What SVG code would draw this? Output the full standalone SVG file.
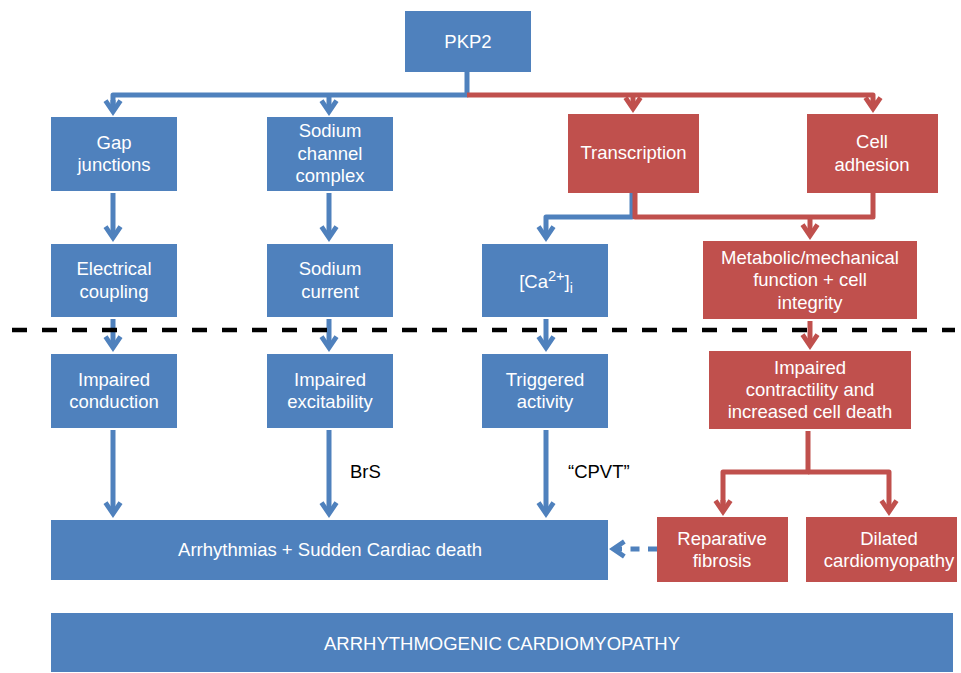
<svg xmlns="http://www.w3.org/2000/svg" width="961" height="673" viewBox="0 0 961 673">
<style>
.b{fill:#4F81BD}
.r{fill:#C0504D}
.t{fill:#FFFFFF;font-family:"Liberation Sans",Arial,sans-serif;font-size:18.5px;text-anchor:middle}
.k{fill:#000000;font-family:"Liberation Sans",Arial,sans-serif;font-size:18.5px}
.cb{fill:none;stroke:#4F81BD;stroke-width:5;stroke-linejoin:round}
.cr{fill:none;stroke:#C0504D;stroke-width:5;stroke-linejoin:round}
.ab{marker-end:url(#mb)}
.ar{marker-end:url(#mr)}
</style>
<defs>
<marker id="mb" viewBox="-20 -12 24 24" markerWidth="24" markerHeight="24" markerUnits="userSpaceOnUse" refX="-7" refY="0" orient="auto">
<polygon points="0,0 -14,-9.5 -16.7,-5.5 -8.5,0 -16.7,5.5 -14,9.5" fill="#4F81BD"/>
</marker>
<marker id="mr" viewBox="-20 -12 24 24" markerWidth="24" markerHeight="24" markerUnits="userSpaceOnUse" refX="-7" refY="0" orient="auto">
<polygon points="0,0 -14,-9.5 -16.7,-5.5 -8.5,0 -16.7,5.5 -14,9.5" fill="#C0504D"/>
</marker>
</defs>
<rect width="961" height="673" fill="#FFFFFF"/>

<g id="connectors">
<path class="cb" d="M467,72 V95 H113 V109"/>
<path class="cb ab" d="M113,100 V109"/>
<path class="cb ab" d="M329,95 V109"/>
<path class="cr" d="M467,95 H873 V106"/>
<path class="cr ar" d="M873,100 V106"/>
<path class="cr ar" d="M633,95 V106"/>
<path class="cb ab" d="M113,193 V235"/>
<path class="cb ab" d="M329,193 V235"/>
<path class="cb ab" d="M632,193 V217 H546 V235"/>
<path class="cr" d="M635,193 V217 H873 V193"/>
<path class="cr ar" d="M810,217 V233"/>
<path class="cb ab" d="M113,319 V345"/>
<path class="cb ab" d="M329,319 V345"/>
<path class="cb ab" d="M546,319 V345"/>
<path class="cr ar" d="M810,321 V343"/>
<path class="cb ab" d="M113,430 V511"/>
<path class="cb ab" d="M329,430 V511"/>
<path class="cb ab" d="M546,430 V511"/>
<path class="cr" d="M808,431 V472 H723 V509"/>
<path class="cr ar" d="M723,500 V509"/>
<path class="cr ar" d="M808,472 H889 V509"/>
<path class="cb ab" d="M657,549 H616" stroke-dasharray="9 8.5"/>
<path d="M12,330 H955" fill="none" stroke="#000000" stroke-width="4.5" stroke-dasharray="15 15"/>
</g>

<g id="pkp2"><rect class="b" x="405" y="11" width="126" height="61"/><text class="t" x="468" y="48">PKP2</text></g>
<g id="gap"><rect class="b" x="51" y="117" width="126" height="74"/><text class="t" x="114" y="149">Gap</text><text class="t" x="114" y="171">junctions</text></g>
<g id="sodium-channel"><rect class="b" x="267" y="117" width="126" height="74"/><text class="t" x="330" y="137">Sodium</text><text class="t" x="330" y="160">channel</text><text class="t" x="330" y="182">complex</text></g>
<g id="transcription"><rect class="r" x="568" y="114" width="131" height="79"/><text class="t" x="633.5" y="159">Transcription</text></g>
<g id="cell-adhesion"><rect class="r" x="807" y="114" width="131" height="79"/><text class="t" x="872" y="148">Cell</text><text class="t" x="872" y="171">adhesion</text></g>
<g id="electrical"><rect class="b" x="51" y="244" width="126" height="73"/><text class="t" x="114" y="275">Electrical</text><text class="t" x="114" y="298">coupling</text></g>
<g id="sodium-current"><rect class="b" x="267" y="244" width="126" height="73"/><text class="t" x="330" y="275">Sodium</text><text class="t" x="330" y="298">current</text></g>
<g id="calcium"><rect class="b" x="482" y="244" width="126" height="73"/><text class="t" x="546" y="288">[Ca<tspan font-size="14.5" dy="-7">2+</tspan><tspan dy="7">]</tspan><tspan font-size="14" dy="5">i</tspan></text></g>
<g id="metabolic"><rect class="r" x="703" y="241" width="214" height="78"/><text class="t" x="810" y="264">Metabolic/mechanical</text><text class="t" x="810" y="286">function + cell</text><text class="t" x="810" y="309">integrity</text></g>
<g id="conduction"><rect class="b" x="51" y="354" width="126" height="74"/><text class="t" x="114" y="386">Impaired</text><text class="t" x="114" y="408">conduction</text></g>
<g id="excitability"><rect class="b" x="267" y="354" width="126" height="74"/><text class="t" x="330" y="386">Impaired</text><text class="t" x="330" y="408">excitability</text></g>
<g id="triggered"><rect class="b" x="482" y="354" width="126" height="74"/><text class="t" x="545" y="386">Triggered</text><text class="t" x="545" y="408">activity</text></g>
<g id="contractility"><rect class="r" x="709" y="351" width="202" height="78"/><text class="t" x="810" y="374">Impaired</text><text class="t" x="810" y="396">contractility and</text><text class="t" x="810" y="418">increased cell death</text></g>
<g id="brs-label"><text class="k" x="350" y="478">BrS</text></g>
<g id="cpvt-label"><text class="k" x="568" y="478">“CPVT”</text></g>
<g id="arrhythmias"><rect class="b" x="51" y="520" width="557" height="60"/><text class="t" x="330" y="556">Arrhythmias + Sudden Cardiac death</text></g>
<g id="fibrosis"><rect class="r" x="657" y="517" width="131" height="65"/><text class="t" x="722" y="545">Reparative</text><text class="t" x="722" y="567">fibrosis</text></g>
<g id="dilated"><rect class="r" x="806" y="517" width="151" height="65"/><text class="t" x="889" y="545">Dilated</text><text class="t" x="889" y="567">cardiomyopathy</text></g>
<g id="acm"><rect class="b" x="51" y="613" width="902" height="59"/><text class="t" x="502" y="650">ARRHYTHMOGENIC CARDIOMYOPATHY</text></g>
</svg>
